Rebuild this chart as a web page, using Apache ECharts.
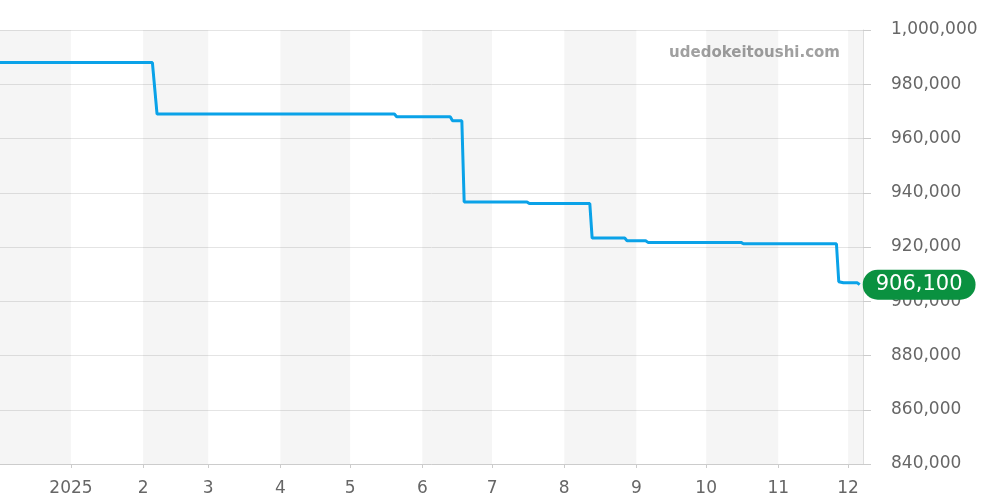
<!DOCTYPE html>
<html>
<head>
<meta charset="utf-8">
<script src="https://cdn.jsdelivr.net/npm/echarts@6/dist/echarts.min.js"></script>
<style>
  html, body { margin: 0; padding: 0; background: #fff; }
  #chart { width: 1000px; height: 500px; }
</style>
</head>
<body>
<div id="chart"></div>
<script>
  // price history (step changes)
  var dates = [
    '2024-12-01', '2025-02-05', '2025-02-07', '2025-05-20', '2025-05-21',
    '2025-06-13', '2025-06-14', '2025-06-18', '2025-06-19', '2025-07-16',
    '2025-07-17', '2025-08-12', '2025-08-13', '2025-08-27', '2025-08-28',
    '2025-09-05', '2025-09-06', '2025-10-16', '2025-10-17', '2025-11-26',
    '2025-11-27', '2025-11-29', '2025-12-05', '2025-12-06'
  ];
  var prices = [
    988000, 988000, 969000, 969000, 968000,
    968000, 966500, 966500, 936600, 936600,
    936000, 936000, 923300, 923300, 922300,
    922300, 921700, 921700, 921200, 921200,
    907200, 906800, 906800, 906100
  ];
  // shaded month bands
  var bandStarts = ['2024-12-01', '2025-02-01', '2025-04-01', '2025-06-01', '2025-08-01', '2025-10-01', '2025-12-01'];
  var bandEnds   = ['2025-01-01', '2025-03-01', '2025-05-01', '2025-07-01', '2025-09-01', '2025-11-01', '2026-01-01'];

  var yTicks = { min: 840000, max: 1000000, step: 20000 };

  var lineData = [];
  for (var i = 0; i < dates.length; i++) {
    lineData.push([dates[i], prices[i]]);
  }
  var bands = [];
  for (var j = 0; j < bandStarts.length; j++) {
    bands.push([{ xAxis: bandStarts[j] }, { xAxis: bandEnds[j] }]);
  }

  function fmt(v) {
    return String(v).replace(/\B(?=(\d{3})+(?!\d))/g, ',');
  }

  var chart = echarts.init(document.getElementById('chart'));
  chart.setOption({
    animation: false,
    textStyle: { fontFamily: 'DejaVu Sans' },
    grid: { left: 0, right: 137, top: 30, bottom: 36 },
    graphic: [{
      type: 'text',
      right: 160,
      top: 46,
      style: {
        text: 'udedokeitoushi.com',
        fill: '#a0a0a0',
        font: 'bold 15px "DejaVu Sans"'
      }
    }],
    xAxis: {
      type: 'time',
      min: '2024-12-01T12:00:00',
      max: '2025-12-07T10:00:00',
      minInterval: 28 * 86400000,
      maxInterval: 31 * 86400000,
      axisLine: { lineStyle: { color: '#cccccc' } },
      axisTick: { show: true, length: 4, lineStyle: { color: '#cccccc' } },
      axisLabel: {
        color: '#666',
        fontSize: 17,
        margin: 16,
        showMinLabel: false,
        showMaxLabel: false,
        formatter: function (val) {
          var d = new Date(val);
          if (d.getMonth() === 0) return String(d.getFullYear());
          return String(d.getMonth() + 1);
        }
      },
      splitLine: { show: false }
    },
    yAxis: {
      type: 'value',
      position: 'right',
      min: yTicks.min,
      max: yTicks.max,
      interval: yTicks.step,
      axisLine: { show: true, lineStyle: { color: '#dddddd' } },
      axisTick: { show: true, length: 8, lineStyle: { color: '#cccccc' } },
      axisLabel: {
        color: '#666',
        fontSize: 17,
        margin: 28,
        formatter: fmt
      },
      splitLine: { lineStyle: { color: '#e4e4e4' } }
    },
    series: [{
      type: 'line',
      data: [],
      silent: true,
      z: 1,
      markArea: {
        silent: true,
        itemStyle: { color: 'rgba(0,0,0,0.04)' },
        data: bands
      }
    }, {
      type: 'line',
      data: lineData,
      showSymbol: false,
      z: 5,
      lineStyle: { color: '#0aa2e8', width: 3 },
      endLabel: {
        show: true,
        distance: 3,
        formatter: function (p) { return fmt(p.value[1]); },
        color: '#fff',
        fontSize: 21,
        lineHeight: 22,
        backgroundColor: '#0a9140',
        borderRadius: 15,
        padding: [4, 13]
      }
    }]
  });
</script>
</body>
</html>
